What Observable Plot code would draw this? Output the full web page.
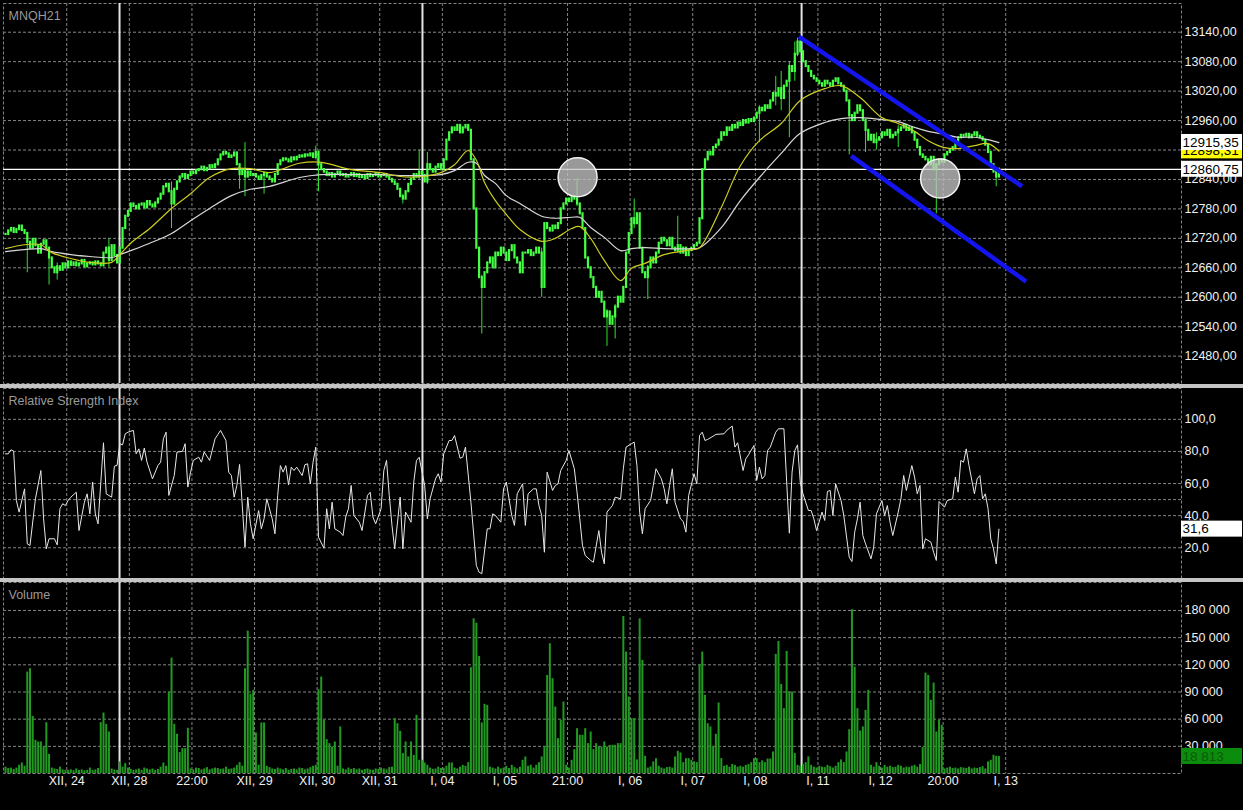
<!DOCTYPE html>
<html>
<head>
<meta charset="utf-8">
<script src="https://cdn.jsdelivr.net/npm/d3@7"></script>
<script src="https://cdn.jsdelivr.net/npm/@observablehq/plot@0.6"></script>
<style>
  html, body { margin: 0; padding: 0; background: #000; overflow: hidden; }
  #chart { position: relative; width: 1243px; height: 810px; background: #000; }
  #chart svg { position: absolute; left: 0; max-width: none; }
  .sep { position: absolute; left: 0; width: 1243px; height: 4px; background: #c4c4c4; }
</style>
</head>
<body>
<div id="chart"></div>
<script>
// ---------------- DATA ----------------
const symbol = "MNQH21";
const lastPrice = 12860.75;
const maYellowLast = 12898.31;
const maWhiteLast = 12915.35;
const rsiLast = 31.6;
const volumeLast = 18813;

// hourly closes, bar index 0..365
const close = [
 12728,12735,12740,12732,12738,12745,12736,12730,
 12712,12700,12718,12705,12690,12708,12715,12700,
 12680,12660,12650,12662,12655,
 12668,12660,12672,12665,12670,12664,12668,12675,12662,12668,12670,12666,12672,12668,12664,
 12690,12700,12675,12705,12685,12670,
 12700,12740,12765,
 12775,12790,12785,12780,12788,
 12790,12782,12795,12788,12784,12792,12800,
 12810,12825,12830,12815,12790,12820,
 12835,12845,12850,12842,12848,12855,12852,12858,
 12860,12865,12858,12862,12868,12864,12870,
 12880,12890,12895,12892,12885,12888,12894,
 12870,12850,12860,12845,12855,12848,
 12850,12845,12840,12848,12852,12845,12840,12835,12850,
 12870,12878,12882,12880,12876,12884,12880,12885,12888,
 12886,12890,12888,12892,12885,12895,12870,
 12860,12855,12848,12852,12845,12850,12855,12848,
 12850,12845,12848,12852,12846,12850,12844,12848,12842,12850,12846,12848,12852,12845,12848,12850,12845,12840,12835,
 12830,12820,12805,12800,12815,12830,
 12840,12850,12845,12855,12848,
 12835,12870,12860,12855,12865,12870,12860,
 12880,12920,12935,
 12945,12940,12950,12935,12945,12950,12940,
 12880,12780,12700,12640,12620,
 12650,12670,12680,12660,12690,
 12685,12700,12690,12675,12695,12705,
 12680,12670,12650,12690,
 12690,12695,12685,12690,12700,12690,12620,
 12750,
 12740,12735,12745,12740,12750,
 12780,12790,12800,12795,12805,
 12800,12790,12770,12740,
 12680,12660,12640,
 12620,12600,12610,12590,
 12560,12570,12545,12560,12580,
 12600,12590,12620,
 12690,12730,
 12760,12750,12770,
 12700,12650,12640,
 12660,12680,12670,
 12690,12710,12720,12715,12705,12720,
 12700,12695,12705,12690,12700,12685,12695,12700,
 12705,12710,12760,12860,
 12880,12895,12890,12905,
 12910,12920,12935,12930,12945,12940,12950,12945,
 12955,12950,12960,12955,12962,12958,
 12965,12975,12985,12980,12990,12985,
 13000,13015,13010,13025,13005,13030,
 13040,13070,13060,13095,13120,
 13100,13080,13070,13060,13050,
 13045,13040,13035,13030,13040,13035,13030,
 13040,13045,13035,13030,
 13020,13000,12970,12960,
 12975,12990,12980,12960,
 12940,12920,12930,12915,12920,
 12925,12935,12930,12940,12925,12930,
 12935,12940,12945,12950,12940,12945,
 12935,12920,12905,12890,
 12885,12880,12870,12885,12860,12870,
 12880,12875,12890,12895,
 12900,12905,12915,12925,
 12930,12928,12932,12925,12930,12935,12928,12925,
 12920,12910,12895,
 12870,12855,12845,12860.75
];

// visible wicks: [bar, high, low]
const wicks = [
 [8,12725,12650],[16,12690,12625],[19,12670,12635],[38,12720,12660],[61,12835,12740],
 [86,12870,12820],[88,12915,12805],[95,12855,12810],[114,12908,12880],[115,12895,12815],
 [146,12810,12790],[152,12900,12840],[155,12895,12830],[175,12645,12525],[197,12700,12600],
 [210,12842,12785],[221,12575,12500],[224,12585,12515],[231,12800,12740],[236,12665,12595],
 [247,12765,12690],[277,12990,12915],[283,13050,12990],[285,13060,12980],[288,13080,12925],
 [290,13120,13040],[291,13128,13090],[310,12990,12890],[316,12960,12895],[320,12935,12900],
 [328,12950,12905],[342,12870,12770],[364,12860,12825]
];

// moving averages sampled at bars
const maBars   = [0,7,13,17,24,31,39,42,46,53,61,68,75,83,90,97,108,116,127,138,145,153,160,165,170,173,176,180,184,189,197,202,208,211,215,220,226,230,235,242,252,255,263,270,277,285,292,301,307,314,322,328,334,339,345,350,356,361,365];
const maYellow = [12699,12707,12707,12691,12679,12671,12671,12687,12710,12740,12781,12811,12844,12862,12862,12854,12873,12875,12860,12854,12846,12846,12854,12870,12899,12879,12834,12797,12769,12738,12714,12720,12740,12744,12720,12675,12634,12659,12669,12687,12697,12701,12783,12868,12919,12954,13001,13025,13031,13007,12966,12954,12938,12919,12905,12903,12909,12913,12898];
const maWhite  = [12693,12697,12699,12693,12687,12683,12681,12687,12695,12710,12730,12756,12781,12807,12820,12826,12844,12850,12850,12850,12848,12848,12850,12858,12875,12873,12848,12832,12807,12791,12765,12761,12763,12763,12742,12722,12695,12699,12701,12699,12699,12701,12742,12797,12844,12893,12934,12956,12964,12966,12962,12958,12946,12938,12932,12926,12926,12921,12915];

// RSI [bar, value]
const rsi = [
 [0,78.5],[1,78.5],[2,81],[3,80.2],[4,49.4],[5,42.2],[7,56.7],[8,22.4],[9,21.4],[11,50.5],[13,68.1],[14,38],[15,19.3],[16,25.6],[18,25.6],[19,21.8],[20,44.3],[21,47.4],[22,46.3],[23,49.4],[24,51.5],[26,54.6],[27,30.7],[29,48.4],[30,53.6],[31,41.1],[32,60.9],[33,41.1],[34,34.9],[36,85.4],[37,53.6],[39,51.5],[40,70.8],[41,71.3],[42,84.8],[43,84.1],[44,91],[45,92],[47,93.1],[48,78.5],[49,81.6],[50,74.4],[51,82.1],[52,73.3],[54,62.9],[56,71.2],[57,73.3],[58,87.9],[59,92],[60,52.6],[62,65],[63,79.6],[65,80],[66,84.8],[67,57.8],[68,67.1],[69,74.4],[71,76.4],[72,73.3],[73,79.6],[75,74.4],[77,87.9],[78,90.4],[79,93.1],[81,86.8],[82,67.1],[83,65],[84,51.5],[85,58.8],[86,71.9],[88,20.4],[89,51.5],[90,34.9],[91,25.6],[93,43.2],[94,31.8],[95,38],[96,50.5],[98,38],[99,28.7],[100,52.6],[101,71.2],[102,67.1],[103,71.2],[104,59.2],[105,70.2],[106,68.1],[107,70.2],[109,65],[110,71.7],[111,72.3],[112,59.8],[113,73.3],[114,82.7],[115,26.6],[117,19.7],[118,44.3],[119,31.8],[120,48.4],[121,31.8],[123,29.7],[124,27.6],[125,39.1],[126,44.3],[127,58.8],[128,40.1],[130,35.9],[131,30.7],[133,52.6],[134,54.6],[135,39.1],[136,34.9],[138,44.3],[139,68.1],[140,74.4],[141,52.6],[142,33.9],[143,19.3],[145,51.5],[146,19.3],[147,42.2],[149,35.9],[150,60.9],[151,74.4],[152,76.4],[154,58.8],[155,38],[156,50.5],[158,62.9],[159,66.1],[160,60.9],[161,78.5],[163,86.8],[164,86.8],[165,89.9],[167,75.8],[168,76.4],[169,82.7],[171,48.4],[173,8.9],[174,4.8],[175,3.8],[177,31.8],[178,31.8],[179,41.1],[180,40.1],[182,35.9],[183,56.7],[184,60.9],[186,40.1],[187,33.9],[188,53.6],[190,59.8],[191,33.9],[192,53.6],[194,56.7],[195,56.7],[196,46.3],[197,40.1],[198,17.2],[199,67.1],[201,55.7],[202,58.8],[203,59.8],[204,68.1],[206,74.4],[207,80.6],[209,69.2],[210,54.6],[212,21.4],[213,15.2],[215,12.1],[216,11],[218,30.7],[219,17.2],[220,10],[221,42.2],[223,46.3],[224,51.5],[226,50.5],
 [227,69.2],[228,82.7],[230,84.8],[231,85.8],[232,71.2],[233,42.2],[234,28.7],[235,44.3],[237,49.4],[238,58.8],[239,69.2],[241,62.9],[242,56.7],[243,47.4],[244,58.8],[245,69.2],[246,48.4],[248,38],[249,36.4],[250,29.7],[251,52.6],[253,66.1],[254,59.8],[255,89.9],[256,92],[257,86.8],[258,87.5],[260,89.5],[261,90.6],[264,91],[265,93.1],[267,95.8],[268,82.7],[269,85.4],[271,68.1],[272,75.4],[273,77.9],[275,83.7],[276,61.9],[277,70.2],[278,62.9],[279,65],[280,80.6],[281,82.7],[283,92],[284,94.1],[286,94.1],[288,29.1],[289,67.1],[290,80.6],[291,84.1],[292,60.9],[293,53.6],[295,43.2],[296,43.2],[297,38],[298,30.7],[300,42.2],[301,37],[302,55.1],[303,55.7],[304,40.1],[305,59.8],[307,49.4],[308,40.1],[310,14.1],[311,11.4],[312,29.7],[313,38],[314,48.4],[315,27.6],[316,22.4],[318,13.1],[319,20.4],[320,41.1],[322,49.4],[323,40.1],[324,46.3],[325,35.9],[326,27.6],[328,42.2],[329,50.5],[330,65],[331,55.7],[333,71.2],[334,64],[335,53.6],[336,58.8],[337,19.3],[338,25.6],[340,23.5],[341,17.2],[342,12.1],[343,48.8],[345,45.3],[346,49.4],[348,50.5],[349,64],[350,54.6],[351,74.4],[352,73.3],[353,81.6],[354,71.2],[356,53.6],[357,62.9],[358,65],[359,50.5],[360,53.6],[361,44.3],[362,25.6],[363,19.3],[364,10],[365,31.6]
];

// hourly volume, bar index 0..365
const volume = [
 7000,5500,6000,4500,6000,9100,11600,8000,112000,115700,63100,36600,34800,34800,29300,56100,21200,6000,5000,4500,7000,4000,3500,
 3500,4000,3000,5000,3500,4000,3000,3500,6000,3500,4000,5500,
 56100,66800,54300,45800,
 5000,4000,3500,
 12800,7000,10900,
 6000,4500,3500,4000,5000,3500,6000,5000,4000,5000,3500,4500,7000,11600,
 8000,
 89900,127400,54300,43300,23100,27500,27500,49900,
 5000,4000,6000,5500,4000,5000,6500,4000,5000,6000,5500,4500,5000,7000,4500,5000,6000,9000,12000,
 8000,
 115700,157200,87400,91800,44700,9000,55800,55800,
 8000,6500,5000,4500,6000,5000,4000,5500,3500,4500,5000,4000,6000,5500,4000,5000,6500,8000,
 9000,
 92500,106500,58700,37400,33000,29300,34800,8000,51400,
 5000,4000,6000,4500,5500,4000,5000,3500,4500,5000,4000,3500,5000,4500,6000,5000,4000,6500,7000,
 60600,55000,46600,22000,34800,18300,34800,20000,64200,14600,14600,11600,9100,
 6000,4500,5000,7000,5500,6000,8000,11600,11600,6000,5000,7000,9000,8000,12000,
 116800,170800,166000,129300,55800,76400,75200,
 7000,6000,5000,7000,5000,6000,8000,5500,9100,6500,5000,7000,14600,18300,8000,9100,6000,9100,
 12000,18300,29300,
 108300,143300,104700,73400,38500,58700,78900,
 9100,6000,14600,26400,49500,42200,42200,49500,33000,45800,26400,33000,29000,29300,34800,29300,31100,31100,31100,33000,
 33000,173400,134100,84400,60600,60600,15000,170800,124900,19000,
 6000,7300,12800,16400,8000,6000,5000,6500,7000,6000,18300,24500,22700,12000,16400,16400,14600,13000,
 12000,
 120500,134100,86300,55000,51400,30000,43300,77800,
 16400,8000,9000,7000,10000,9000,7000,8000,7000,9000,10000,12000,16400,16400,12000,14000,12000,16000,
 16000,23800,
 131500,145800,98400,71600,134800,89900,89900,
 22000,9000,8000,10000,12000,18300,
 9000,7000,6000,8000,7000,6500,9000,7500,6000,8000,12000,15000,
 12000,
 23800,48400,180800,117500,71600,46900,51400,69700,91800,
 9000,7000,12000,8000,6000,9000,7000,8000,6500,7000,9000,8000,6000,7000,6500,8000,9000,7000,10000,
 28600,110900,108300,80800,99900,45800,58700,53200,
 5000,6000,7000,5500,6000,5000,6500,6000,5500,7000,5000,6000,5500,6500,7500,5000,
 12800,14600,20100,19000,18813
];

// time axis
const tickBars   = [22.5,45.5,68.5,91.5,114.5,137.5,160.5,183.5,206.5,229.5,252.5,275.5,298.5,321.5,344.5,367.5];
const tickLabels = ["XII, 24","XII, 28","22:00","XII, 29","XII, 30","XII, 31","I, 04","I, 05","21:00","I, 06","I, 07","I, 08","I, 11","I, 12","20:00","I, 13"];
const sessionBreaks = [41.9, 153.2, 292.5];

const priceTicks  = [12480,12540,12600,12660,12720,12780,12840,12900,12960,13020,13080,13140];
const rsiGrid     = [20,40,50,60,80,100];
const rsiTicks    = [20,40,60,80,100];
const volumeTicks = [30000,60000,90000,120000,150000,180000];

// annotations drawn on the price pane
const channelUpper = [[291.5,13131],[373.5,12826]];
const channelLower = [[310.7,12888],[375.0,12632]];
const circleMarks  = [[210.2,12844.6],[343.4,12842]];

// ---------------- BUILD ----------------
const bars = close.map((c, i) => {
  const o = i === 0 ? c : close[i - 1];
  return {i, open: o, close: c, high: Math.max(o, c), low: Math.min(o, c)};
});
for (const [i, h, l] of wicks) { bars[i].high = Math.max(h, bars[i].high); bars[i].low = Math.min(l, bars[i].low); }
const yellowData = maBars.map((b, k) => ({i: b, v: maYellow[k]}));
const whiteData  = maBars.map((b, k) => ({i: b, v: maWhite[k]}));
const volData    = volume.map((v, i) => ({i, v}));

const W = 1243, ML = 3, MR = 62;
const FONT = "'Liberation Sans', Arial, sans-serif";
const GRID = "#858585";
const xScale = {domain: [-0.735, 432.08], axis: null};
const style = {background: "#000", color: "#f0f0f0", fontFamily: FONT, fontSize: "12.5px", overflow: "visible"};
const fmt2 = d => d.toFixed(2).replace(".", ",");
const fmt1 = d => d.toFixed(1).replace(".", ",");
const fmtVol = d => d3.format(",")(d).replace(/,/g, " ");

const gridMarks = (yt) => [
  Plot.ruleY(yt, {stroke: GRID, strokeDasharray: "3,2", strokeWidth: 1}),
  Plot.ruleX(tickBars, {stroke: GRID, strokeDasharray: "3,2", strokeWidth: 1}),
  Plot.frame({stroke: GRID, strokeDasharray: "3,2"}),
  Plot.ruleX(sessionBreaks, {stroke: "#e4e4e4", strokeWidth: 2})
];
const title = (t) => Plot.text([t], {frameAnchor: "top-left", textAnchor: "start", dx: 5, dy: 8, fill: "#9a9a9a", fontSize: 12.5});

function yFn(plot, dom, rng) {
  try { const s = plot.scale("y"); if (s && s.apply) return v => s.apply(v); } catch (e) {}
  return d3.scaleLinear(dom, rng);
}
function tag(svg, yf, value, text, bg, fg) {
  const y = yf(value);
  const g = d3.select(svg).append("g").attr("text-anchor", "start");
  g.append("rect").attr("x", W - MR).attr("y", y - 8).attr("width", 61).attr("height", 16).attr("fill", bg);
  g.append("text").attr("x", W - MR + 1.5).attr("y", y).attr("dy", "0.36em").attr("text-anchor", "start")
    .attr("fill", fg).attr("font-size", 13.5).attr("font-family", FONT).text(text);
}

const root = document.getElementById("chart");

// ---- price pane ----
const priceDom = [12424.3, 13198.5];
const price = Plot.plot({
  width: W, height: 384, marginLeft: ML, marginRight: MR, marginTop: 3, marginBottom: 1,
  x: xScale, y: {domain: priceDom, axis: null}, style,
  marks: [
    ...gridMarks(priceTicks),
    Plot.ruleY([lastPrice], {stroke: "#ffffff", strokeWidth: 1.3}),
    Plot.ruleX(bars, {x: "i", y1: "low", y2: "high", stroke: "#2fe02f", strokeWidth: 1}),
    Plot.ruleX(bars, {x: "i", y1: "open", y2: "close", stroke: "#44ff44", strokeWidth: 2.2, strokeLinecap: "square"}),
    Plot.line(whiteData, {x: "i", y: "v", stroke: "#d6d6d6", strokeWidth: 1.2, curve: "catmull-rom"}),
    Plot.line(yellowData, {x: "i", y: "v", stroke: "#cccc22", strokeWidth: 1.2, curve: "catmull-rom"}),
    Plot.dot(circleMarks, {x: d => d[0], y: d => d[1], r: 19.5, fill: "#c4c4c4", fillOpacity: 0.78, stroke: "#f2f2f2", strokeWidth: 1.5}),
    Plot.line(channelUpper, {x: d => d[0], y: d => d[1], stroke: "#1414ee", strokeWidth: 4.5, strokeLinecap: "butt"}),
    Plot.line(channelLower, {x: d => d[0], y: d => d[1], stroke: "#1414ee", strokeWidth: 4.5, strokeLinecap: "butt"}),
    Plot.text(priceTicks, {y: d => d, text: fmt2, frameAnchor: "right", textAnchor: "start", dx: 3, fill: "#f0f0f0", fontSize: 12.5}),
    title(symbol)
  ]
});
price.style.top = "0px";
root.appendChild(price);
const pyf = yFn(price, priceDom, [383, 3]);
tag(price, pyf, maYellowLast, fmt2(maYellowLast), "#ffff00", "#000");
tag(price, pyf, maWhiteLast, fmt2(maWhiteLast), "#ffffff", "#000");
tag(price, pyf, lastPrice, fmt2(lastPrice), "#ffffff", "#000");

// ---- RSI pane ----
const rsiDom = [0.85, 119.2];
const rsiPlot = Plot.plot({
  width: W, height: 190, marginLeft: ML, marginRight: MR, marginTop: 0, marginBottom: 0,
  x: xScale, y: {domain: rsiDom, axis: null}, style,
  marks: [
    ...gridMarks(rsiGrid),
    Plot.line(rsi, {x: d => d[0], y: d => d[1], stroke: "#e8e8e8", strokeWidth: 1}),
    Plot.text(rsiTicks, {y: d => d, text: fmt1, frameAnchor: "right", textAnchor: "start", dx: 3, fill: "#f0f0f0", fontSize: 12.5}),
    title("Relative Strength Index")
  ]
});
rsiPlot.style.top = "388px";
root.appendChild(rsiPlot);
tag(rsiPlot, yFn(rsiPlot, rsiDom, [190, 0]), rsiLast, fmt1(rsiLast), "#ffffff", "#000");

// ---- volume pane ----
const volDom = [0, 210900];
const volPlot = Plot.plot({
  width: W, height: 228, marginLeft: ML, marginRight: MR, marginTop: 0, marginBottom: 37,
  x: xScale, y: {domain: volDom, axis: null}, style,
  marks: [
    ...gridMarks(volumeTicks),
    Plot.ruleX(volData, {x: "i", y: "v", stroke: "#229a22", strokeWidth: 2}),
    Plot.text(volumeTicks, {y: d => d, text: fmtVol, frameAnchor: "right", textAnchor: "start", dx: 3, fill: "#f0f0f0", fontSize: 12.5}),
    Plot.text(tickBars, {x: d => d, text: (d, i) => tickLabels[i], frameAnchor: "bottom", dy: 11, fill: "#f0f0f0", fontSize: 12.5}),
    title("Volume")
  ]
});
volPlot.style.top = "582px";
root.appendChild(volPlot);
tag(volPlot, yFn(volPlot, volDom, [191, 0]), volumeLast, fmtVol(volumeLast), "#0c8c0c", "#0a5a0a");

// separators
for (const t of [384, 578]) {
  const d = document.createElement("div"); d.className = "sep"; d.style.top = t + "px"; root.appendChild(d);
}
</script>
</body>
</html>
